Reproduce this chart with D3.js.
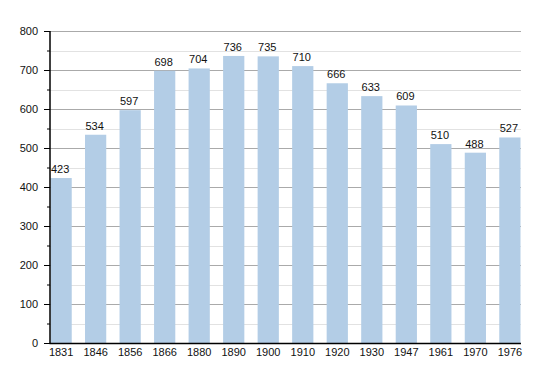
<!DOCTYPE html>
<html><head><meta charset="utf-8">
<script src="https://cdn.jsdelivr.net/npm/d3@7"></script>
<style>body{margin:0;background:#fff}svg{display:block}text{font-family:"Liberation Sans",Arial,sans-serif}</style>
</head><body>
<script>
const years = ["1831","1846","1856","1866","1880","1890","1900","1910","1920","1930","1947","1961","1970","1976"];
const population = [423,534,597,698,704,736,735,710,666,633,609,510,488,527];
const majorTicks = [0,100,200,300,400,500,600,700,800];
const minorTicks = [50,150,250,350,450,550,650,750];

const W = 550, H = 373;
const svg = d3.select("body").append("svg").attr("width", W).attr("height", H);
const x = d3.scaleBand().domain(years).range([50.5, 520.5]).paddingInner(0.385).paddingOuter(0);
const y = d3.scaleLinear().domain([0, 800]).range([343, 31]);

// minor grid
svg.append("g").selectAll("line").data(minorTicks).join("line")
  .attr("x1", 50).attr("x2", 521)
  .attr("y1", d => Math.round(y(d)) + 0.5).attr("y2", d => Math.round(y(d)) + 0.5)
  .attr("stroke", "#e2e2e2").attr("stroke-width", 1);
// major grid
svg.append("g").selectAll("line").data(majorTicks.filter(d => d > 0)).join("line")
  .attr("x1", 50).attr("x2", 521)
  .attr("y1", d => Math.round(y(d)) + 0.5).attr("y2", d => Math.round(y(d)) + 0.5)
  .attr("stroke", "#aaaaaa").attr("stroke-width", 1);

// bars
svg.append("g").selectAll("rect").data(population).join("rect")
  .attr("x", (d, i) => x(years[i]))
  .attr("width", x.bandwidth())
  .attr("y", d => y(d))
  .attr("height", d => y(0) - y(d))
  .attr("fill", "#b3cde6");

// value labels
svg.append("g").selectAll("text").data(population).join("text")
  .attr("x", (d, i) => x(years[i]) + x.bandwidth() / 2 - 1)
  .attr("y", d => y(d) - 5)
  .attr("text-anchor", "middle")
  .attr("font-size", 11)
  .attr("fill", "#111")
  .text(d => d);

// y axis
const yAxis = d3.axisLeft(y).tickValues(majorTicks).tickSize(6).tickPadding(6).tickFormat(d3.format("d"));
const gy = svg.append("g").attr("transform", "translate(50,0)").call(yAxis);
gy.select(".domain").remove();
gy.selectAll("text").attr("font-size", 11).attr("fill", "#111").style("font-family", '"Liberation Sans",Arial,sans-serif');
gy.selectAll(".tick line").attr("stroke", "#000");
const gyMinor = svg.append("g").attr("transform", "translate(50,0)")
  .call(d3.axisLeft(y).tickValues(minorTicks).tickSize(3).tickFormat(""));
gyMinor.select(".domain").remove();
gyMinor.selectAll(".tick line").attr("stroke", "#000");
svg.append("line").attr("x1", 50).attr("x2", 50).attr("y1", 31).attr("y2", 343.5)
  .attr("stroke", "#000").attr("stroke-width", 1.5);

// x axis
const gx = svg.append("g").attr("transform", "translate(0,343)")
  .call(d3.axisBottom(x).tickSize(0).tickPadding(5));
gx.select(".domain").remove();
gx.selectAll("text").attr("font-size", 11).attr("fill", "#111").style("font-family", '"Liberation Sans",Arial,sans-serif');
svg.append("line").attr("x1", 49.5).attr("x2", 521).attr("y1", 343.5).attr("y2", 343.5)
  .attr("stroke", "#000").attr("stroke-width", 1.5);
</script>
</body></html>
